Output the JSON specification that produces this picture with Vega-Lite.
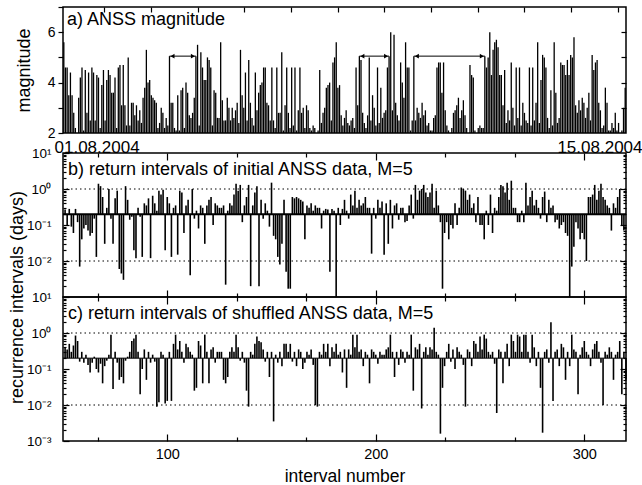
{
"$schema": "https://vega.github.io/schema/vega-lite/v6.json",
"padding": {"left": 7, "top": 5, "right": 0, "bottom": 0},
"bounds": "flush",
"spacing": 20,
"config": {
  "font": "Liberation Sans",
  "view": {"stroke": "black", "strokeWidth": 1.5},
  "axis": {"domain": false, "grid": false, "tickColor": "black", "labelColor": "black", "titleColor": "black", "titleFontWeight": "normal", "tickWidth": 1.2, "labelFont": "Liberation Sans", "titleFont": "Liberation Sans"}
},
"datasets": {
"mag": [
{"k":1,"m":5.6},{"k":2,"m":4.6},{"k":3,"m":4.6},{"k":4,"m":3.5},{"k":5,"m":4.4},{"k":6,"m":3.5},{"k":7,"m":2.8},{"k":8,"m":2.2},{"k":9,"m":2.0},{"k":10,"m":3.4},
{"k":11,"m":4.2},{"k":12,"m":4.6},{"k":13,"m":2.1},{"k":14,"m":4.5},{"k":15,"m":2.8},{"k":16,"m":4.4},{"k":17,"m":2.5},{"k":18,"m":4.6},{"k":19,"m":4.4},{"k":20,"m":2.5},
{"k":21,"m":4.3},{"k":22,"m":4.2},{"k":23,"m":2.2},{"k":24,"m":3.9},{"k":25,"m":4.5},{"k":26,"m":2.5},{"k":27,"m":4.1},{"k":28,"m":4.5},{"k":29,"m":4.3},{"k":30,"m":3.6},
{"k":31,"m":3.6},{"k":32,"m":4.2},{"k":33,"m":2.2},{"k":34,"m":4.6},{"k":35,"m":4.7},{"k":36,"m":3.1},{"k":37,"m":4.7},{"k":38,"m":3.1},{"k":39,"m":2.3},{"k":40,"m":5.0},
{"k":41,"m":2.3},{"k":42,"m":3.2},{"k":43,"m":3.2},{"k":44,"m":2.7},{"k":45,"m":3.1},{"k":46,"m":2.5},{"k":47,"m":2.9},{"k":48,"m":2.4},{"k":49,"m":3.4},{"k":50,"m":3.8},
{"k":51,"m":5.3},{"k":52,"m":4.0},{"k":53,"m":4.1},{"k":54,"m":3.5},{"k":55,"m":3.4},{"k":56,"m":3.3},{"k":57,"m":3.2},{"k":58,"m":2.2},{"k":59,"m":2.4},{"k":60,"m":3.0},
{"k":61,"m":2.8},{"k":62,"m":2.2},{"k":63,"m":2.6},{"k":64,"m":2.3},{"k":65,"m":5.05},{"k":66,"m":3.2},{"k":67,"m":3.2},{"k":68,"m":2.2},{"k":69,"m":2.1},{"k":70,"m":3.5},
{"k":71,"m":2.1},{"k":72,"m":3.7},{"k":73,"m":3.8},{"k":74,"m":2.2},{"k":75,"m":4.0},{"k":76,"m":3.6},{"k":77,"m":2.7},{"k":78,"m":2.6},{"k":79,"m":2.8},{"k":80,"m":3.4},
{"k":81,"m":5.05},{"k":82,"m":5.5},{"k":83,"m":2.3},{"k":84,"m":5.2},{"k":85,"m":4.6},{"k":86,"m":4.1},{"k":87,"m":4.1},{"k":88,"m":5.0},{"k":89,"m":4.9},{"k":90,"m":4.6},
{"k":91,"m":2.3},{"k":92,"m":3.7},{"k":93,"m":3.6},{"k":94,"m":2.6},{"k":95,"m":2.6},{"k":96,"m":5.6},{"k":97,"m":3.3},{"k":98,"m":2.5},{"k":99,"m":2.5},{"k":100,"m":3.4},
{"k":101,"m":3.0},{"k":102,"m":2.5},{"k":103,"m":3.0},{"k":104,"m":2.6},{"k":105,"m":2.9},{"k":106,"m":3.2},{"k":107,"m":2.4},{"k":108,"m":5.3},{"k":109,"m":3.5},{"k":110,"m":3.0},
{"k":111,"m":4.4},{"k":112,"m":2.5},{"k":113,"m":4.9},{"k":114,"m":3.2},{"k":115,"m":2.6},{"k":116,"m":2.3},{"k":117,"m":4.4},{"k":118,"m":2.9},{"k":119,"m":3.6},{"k":120,"m":3.9},
{"k":121,"m":4.0},{"k":122,"m":4.6},{"k":123,"m":4.6},{"k":124,"m":3.2},{"k":125,"m":3.1},{"k":126,"m":2.5},{"k":127,"m":4.6},{"k":128,"m":2.5},{"k":129,"m":2.2},{"k":130,"m":4.6},
{"k":131,"m":2.8},{"k":132,"m":2.8},{"k":133,"m":5.2},{"k":134,"m":2.1},{"k":135,"m":3.1},{"k":136,"m":4.6},{"k":137,"m":2.8},{"k":138,"m":2.2},{"k":139,"m":4.6},{"k":140,"m":2.3},
{"k":141,"m":4.6},{"k":142,"m":2.1},{"k":143,"m":2.9},{"k":144,"m":4.6},{"k":145,"m":2.8},{"k":146,"m":3.0},{"k":147,"m":2.2},{"k":148,"m":3.1},{"k":149,"m":2.9},{"k":150,"m":2.2},
{"k":151,"m":2.1},{"k":152,"m":2.3},{"k":153,"m":2.2},{"k":154,"m":2.0},{"k":155,"m":2.1},{"k":156,"m":4.5},{"k":157,"m":2.4},{"k":158,"m":2.8},{"k":159,"m":3.0},{"k":160,"m":3.8},
{"k":161,"m":3.9},{"k":162,"m":4.0},{"k":163,"m":2.5},{"k":164,"m":4.8},{"k":165,"m":5.0},{"k":166,"m":5.6},{"k":167,"m":3.8},{"k":168,"m":3.9},{"k":169,"m":2.7},{"k":170,"m":2.3},
{"k":171,"m":2.6},{"k":172,"m":2.9},{"k":173,"m":2.4},{"k":174,"m":2.3},{"k":175,"m":2.5},{"k":176,"m":2.6},{"k":177,"m":2.2},{"k":178,"m":4.6},{"k":179,"m":3.1},{"k":180,"m":5.05},
{"k":181,"m":4.9},{"k":182,"m":2.8},{"k":183,"m":2.4},{"k":184,"m":2.2},{"k":185,"m":2.7},{"k":186,"m":5.0},{"k":187,"m":2.5},{"k":188,"m":3.5},{"k":189,"m":3.0},{"k":190,"m":2.3},
{"k":191,"m":4.6},{"k":192,"m":2.4},{"k":193,"m":3.8},{"k":194,"m":2.6},{"k":195,"m":2.8},{"k":196,"m":2.9},{"k":197,"m":4.6},{"k":198,"m":5.05},{"k":199,"m":6.0},{"k":200,"m":2.9},
{"k":201,"m":5.9},{"k":202,"m":3.2},{"k":203,"m":2.7},{"k":204,"m":2.5},{"k":205,"m":4.8},{"k":206,"m":4.0},{"k":207,"m":3.4},{"k":208,"m":5.6},{"k":209,"m":4.6},{"k":210,"m":4.6},
{"k":211,"m":2.1},{"k":212,"m":2.5},{"k":213,"m":5.05},{"k":214,"m":2.5},{"k":215,"m":3.0},{"k":216,"m":2.8},{"k":217,"m":2.6},{"k":218,"m":3.2},{"k":219,"m":2.7},{"k":220,"m":2.9},
{"k":221,"m":2.3},{"k":222,"m":2.4},{"k":223,"m":2.1},{"k":224,"m":2.1},{"k":225,"m":2.6},{"k":226,"m":2.7},{"k":227,"m":4.6},{"k":228,"m":4.8},{"k":229,"m":4.8},{"k":230,"m":3.6},
{"k":231,"m":4.8},{"k":232,"m":2.9},{"k":233,"m":2.3},{"k":234,"m":2.1},{"k":235,"m":2.0},{"k":236,"m":2.2},{"k":237,"m":2.8},{"k":238,"m":2.9},{"k":239,"m":3.1},{"k":240,"m":3.4},
{"k":241,"m":2.6},{"k":242,"m":2.9},{"k":243,"m":3.3},{"k":244,"m":2.7},{"k":245,"m":2.2},{"k":246,"m":2.0},{"k":247,"m":4.7},{"k":248,"m":4.3},{"k":249,"m":4.2},{"k":250,"m":2.1},
{"k":251,"m":2.0},{"k":252,"m":2.2},{"k":253,"m":2.3},{"k":254,"m":2.2},{"k":255,"m":2.2},{"k":256,"m":5.05},{"k":257,"m":4.6},{"k":258,"m":5.0},{"k":259,"m":6.0},{"k":260,"m":4.3},
{"k":261,"m":5.3},{"k":262,"m":5.6},{"k":263,"m":5.7},{"k":264,"m":5.4},{"k":265,"m":4.3},{"k":266,"m":4.3},{"k":267,"m":3.1},{"k":268,"m":4.5},{"k":269,"m":2.4},{"k":270,"m":2.9},
{"k":271,"m":2.5},{"k":272,"m":4.8},{"k":273,"m":3.0},{"k":274,"m":2.3},{"k":275,"m":4.6},{"k":276,"m":2.6},{"k":277,"m":4.6},{"k":278,"m":2.3},{"k":279,"m":3.2},{"k":280,"m":2.8},
{"k":281,"m":2.5},{"k":282,"m":2.4},{"k":283,"m":4.6},{"k":284,"m":2.3},{"k":285,"m":4.6},{"k":286,"m":2.5},{"k":287,"m":3.2},{"k":288,"m":5.6},{"k":289,"m":2.4},{"k":290,"m":4.1},
{"k":291,"m":5.1},{"k":292,"m":5.0},{"k":293,"m":4.6},{"k":294,"m":2.6},{"k":295,"m":2.2},{"k":296,"m":3.7},{"k":297,"m":2.3},{"k":298,"m":5.6},{"k":299,"m":3.6},{"k":300,"m":2.4},
{"k":301,"m":2.6},{"k":302,"m":4.8},{"k":303,"m":4.7},{"k":304,"m":4.7},{"k":305,"m":4.3},{"k":306,"m":4.9},{"k":307,"m":4.3},{"k":308,"m":5.1},{"k":309,"m":5.0},{"k":310,"m":5.8},
{"k":311,"m":3.1},{"k":312,"m":2.8},{"k":313,"m":3.3},{"k":314,"m":2.9},{"k":315,"m":3.4},{"k":316,"m":3.2},{"k":317,"m":2.6},{"k":318,"m":3.0},{"k":319,"m":3.6},{"k":320,"m":2.5},
{"k":321,"m":5.1},{"k":322,"m":4.5},{"k":323,"m":4.8},{"k":324,"m":4.9},{"k":325,"m":3.2},{"k":326,"m":2.9},{"k":327,"m":2.2},{"k":328,"m":2.3},{"k":329,"m":3.8},{"k":330,"m":3.2},
{"k":331,"m":2.1},{"k":332,"m":2.1},{"k":333,"m":2.4},{"k":334,"m":2.2},{"k":335,"m":2.8},{"k":336,"m":2.1},{"k":337,"m":2.4},{"k":338,"m":2.0},{"k":339,"m":2.1},{"k":340,"m":3.0},
{"k":341,"m":3.8}
],
"arrows": [{"k1":65,"k2":81,"m":5.05},{"k1":180,"k2":198,"m":5.05},{"k1":213,"k2":256,"m":5.05}],
"b": [
{"n":51,"r":0.27},{"n":52,"r":0.1},{"n":53,"r":0.28},{"n":54,"r":0.09},{"n":55,"r":0.06},{"n":56,"r":0.28},{"n":57,"r":0.12},{"n":58,"r":0.007},{"n":59,"r":0.04},{"n":60,"r":0.08},
{"n":61,"r":0.1},{"n":62,"r":0.07},{"n":63,"r":0.05},{"n":64,"r":0.06},{"n":65,"r":0.15},{"n":66,"r":0.013},{"n":67,"r":1.4},{"n":68,"r":1.2},{"n":69,"r":0.6},{"n":70,"r":0.03},
{"n":71,"r":0.3},{"n":72,"r":1.0},{"n":73,"r":0.15},{"n":74,"r":0.03},{"n":75,"r":0.55},{"n":76,"r":0.9},{"n":77,"r":0.006},{"n":78,"r":0.0045},{"n":79,"r":0.003},{"n":80,"r":1.2},
{"n":81,"r":0.5},{"n":82,"r":0.14},{"n":83,"r":0.17},{"n":84,"r":0.02},{"n":85,"r":0.012},{"n":86,"r":0.3},{"n":87,"r":0.17},{"n":88,"r":0.013},{"n":89,"r":0.4},{"n":90,"r":0.35},
{"n":91,"r":0.55},{"n":92,"r":0.012},{"n":93,"r":0.65},{"n":94,"r":0.4},{"n":95,"r":0.25},{"n":96,"r":0.9},{"n":97,"r":0.7},{"n":98,"r":0.95},{"n":99,"r":0.02},{"n":100,"r":0.6},
{"n":101,"r":0.4},{"n":102,"r":0.013},{"n":103,"r":0.3},{"n":104,"r":0.35},{"n":105,"r":0.015},{"n":106,"r":0.9},{"n":107,"r":0.8},{"n":108,"r":0.06},{"n":109,"r":0.35},{"n":110,"r":0.5},
{"n":111,"r":0.004},{"n":112,"r":1.0},{"n":113,"r":0.15},{"n":114,"r":0.25},{"n":115,"r":0.08},{"n":116,"r":0.35},{"n":117,"r":0.3},{"n":118,"r":0.03},{"n":119,"r":0.35},{"n":120,"r":0.5},
{"n":121,"r":0.6},{"n":122,"r":0.1},{"n":123,"r":0.4},{"n":124,"r":0.35},{"n":125,"r":0.3},{"n":126,"r":0.3},{"n":127,"r":0.35},{"n":128,"r":0.0022},{"n":129,"r":0.25},{"n":130,"r":0.4},
{"n":131,"r":0.35},{"n":132,"r":0.7},{"n":133,"r":1.4},{"n":134,"r":0.9},{"n":135,"r":1.3},{"n":136,"r":0.12},{"n":137,"r":0.35},{"n":138,"r":0.6},{"n":139,"r":1.3},{"n":140,"r":0.002},
{"n":141,"r":0.35},{"n":142,"r":0.8},{"n":143,"r":1.2},{"n":144,"r":0.002},{"n":145,"r":0.5},{"n":146,"r":0.15},{"n":147,"r":0.4},{"n":148,"r":0.25},{"n":149,"r":0.09},{"n":150,"r":1.5},
{"n":151,"r":0.05},{"n":152,"r":0.04},{"n":153,"r":0.013},{"n":154,"r":0.008},{"n":155,"r":0.03},{"n":156,"r":0.5},{"n":157,"r":0.005},{"n":158,"r":0.0017},{"n":159,"r":0.0017},{"n":160,"r":0.6},
{"n":161,"r":0.55},{"n":162,"r":0.6},{"n":163,"r":0.55},{"n":164,"r":0.5},{"n":165,"r":0.45},{"n":166,"r":0.04},{"n":167,"r":0.35},{"n":168,"r":0.3},{"n":169,"r":0.4},{"n":170,"r":0.25},
{"n":171,"r":0.35},{"n":172,"r":0.3},{"n":173,"r":0.3},{"n":174,"r":0.08},{"n":175,"r":0.25},{"n":176,"r":0.28},{"n":177,"r":0.27},{"n":178,"r":0.005},{"n":179,"r":0.28},{"n":180,"r":0.25},
{"n":181,"r":0.001},{"n":182,"r":0.3},{"n":183,"r":0.1},{"n":184,"r":0.28},{"n":185,"r":0.5},{"n":186,"r":0.25},{"n":187,"r":0.15},{"n":188,"r":0.7},{"n":189,"r":0.35},{"n":190,"r":0.9},
{"n":191,"r":0.3},{"n":192,"r":0.5},{"n":193,"r":0.35},{"n":194,"r":0.4},{"n":195,"r":0.6},{"n":196,"r":0.3},{"n":197,"r":0.3},{"n":198,"r":0.016},{"n":199,"r":0.3},{"n":200,"r":0.15},
{"n":201,"r":0.5},{"n":202,"r":0.3},{"n":203,"r":0.45},{"n":204,"r":0.015},{"n":205,"r":0.4},{"n":206,"r":0.03},{"n":207,"r":0.5},{"n":208,"r":0.08},{"n":209,"r":0.35},{"n":210,"r":0.4},
{"n":211,"r":0.14},{"n":212,"r":0.3},{"n":213,"r":0.3},{"n":214,"r":0.12},{"n":215,"r":0.13},{"n":216,"r":0.35},{"n":217,"r":0.7},{"n":218,"r":0.15},{"n":219,"r":1.3},{"n":220,"r":0.5},
{"n":221,"r":0.9},{"n":222,"r":1.0},{"n":223,"r":1.3},{"n":224,"r":0.8},{"n":225,"r":0.6},{"n":226,"r":0.8},{"n":227,"r":1.4},{"n":228,"r":0.3},{"n":229,"r":0.9},{"n":230,"r":0.35},
{"n":231,"r":0.12},{"n":232,"r":0.0017},{"n":233,"r":0.06},{"n":234,"r":0.12},{"n":235,"r":0.04},{"n":236,"r":0.1},{"n":237,"r":0.08},{"n":238,"r":0.4},{"n":239,"r":0.1},{"n":240,"r":0.3},
{"n":241,"r":1.1},{"n":242,"r":1.0},{"n":243,"r":0.9},{"n":244,"r":0.5},{"n":245,"r":0.7},{"n":246,"r":0.3},{"n":247,"r":0.4},{"n":248,"r":0.12},{"n":249,"r":0.6},{"n":250,"r":0.1},
{"n":251,"r":0.1},{"n":252,"r":0.04},{"n":253,"r":0.25},{"n":254,"r":0.1},{"n":255,"r":0.7},{"n":256,"r":0.06},{"n":257,"r":0.3},{"n":258,"r":0.25},{"n":259,"r":0.6},{"n":260,"r":1.3},
{"n":261,"r":1.2},{"n":262,"r":0.8},{"n":263,"r":1.5},{"n":264,"r":0.5},{"n":265,"r":1.7},{"n":266,"r":0.3},{"n":267,"r":0.3},{"n":268,"r":0.12},{"n":269,"r":0.12},{"n":270,"r":0.25},
{"n":271,"r":0.12},{"n":272,"r":1.5},{"n":273,"r":0.35},{"n":274,"r":0.6},{"n":275,"r":0.9},{"n":276,"r":0.35},{"n":277,"r":0.5},{"n":278,"r":0.3},{"n":279,"r":0.15},{"n":280,"r":0.6},
{"n":281,"r":0.85},{"n":282,"r":0.12},{"n":283,"r":0.5},{"n":284,"r":0.3},{"n":285,"r":0.35},{"n":286,"r":0.12},{"n":287,"r":0.14},{"n":288,"r":0.08},{"n":289,"r":0.1},{"n":290,"r":0.12},
{"n":291,"r":0.06},{"n":292,"r":0.05},{"n":293,"r":0.001},{"n":294,"r":0.007},{"n":295,"r":0.025},{"n":296,"r":0.12},{"n":297,"r":0.08},{"n":298,"r":0.04},{"n":299,"r":0.06},{"n":300,"r":0.04},
{"n":301,"r":0.01},{"n":302,"r":0.6},{"n":303,"r":0.6},{"n":304,"r":0.7},{"n":305,"r":1.3},{"n":306,"r":0.5},{"n":307,"r":0.9},{"n":308,"r":1.4},{"n":309,"r":0.6},{"n":310,"r":0.5},
{"n":311,"r":0.35},{"n":312,"r":0.3},{"n":313,"r":0.07},{"n":314,"r":0.4},{"n":315,"r":0.3},{"n":316,"r":0.6},{"n":317,"r":1.0},{"n":318,"r":0.1},{"n":319,"r":0.07},{"n":320,"r":0.2}
],
"c": [
{"n":51,"r":0.4},{"n":52,"r":0.35},{"n":53,"r":0.5},{"n":54,"r":0.3},{"n":55,"r":0.45},{"n":56,"r":0.85},{"n":57,"r":0.6},{"n":58,"r":0.16},{"n":59,"r":0.3},{"n":60,"r":0.15},
{"n":61,"r":0.25},{"n":62,"r":0.13},{"n":63,"r":0.08},{"n":64,"r":0.15},{"n":65,"r":0.22},{"n":66,"r":0.1},{"n":67,"r":0.08},{"n":68,"r":0.14},{"n":69,"r":0.04},{"n":70,"r":0.12},
{"n":71,"r":0.17},{"n":72,"r":0.25},{"n":73,"r":0.9},{"n":74,"r":0.028},{"n":75,"r":0.3},{"n":76,"r":0.15},{"n":77,"r":0.05},{"n":78,"r":0.06},{"n":79,"r":0.04},{"n":80,"r":0.17},
{"n":81,"r":0.22},{"n":82,"r":0.3},{"n":83,"r":0.6},{"n":84,"r":0.7},{"n":85,"r":0.9},{"n":86,"r":0.3},{"n":87,"r":0.02},{"n":88,"r":0.1},{"n":89,"r":0.35},{"n":90,"r":0.05},
{"n":91,"r":0.3},{"n":92,"r":0.15},{"n":93,"r":0.25},{"n":94,"r":0.16},{"n":95,"r":0.009},{"n":96,"r":0.012},{"n":97,"r":0.3},{"n":98,"r":0.25},{"n":99,"r":0.011},{"n":100,"r":0.013},
{"n":101,"r":0.3},{"n":102,"r":0.013},{"n":103,"r":0.5},{"n":104,"r":0.9},{"n":105,"r":0.35},{"n":106,"r":0.6},{"n":107,"r":0.3},{"n":108,"r":0.15},{"n":109,"r":0.5},{"n":110,"r":0.4},
{"n":111,"r":0.3},{"n":112,"r":0.25},{"n":113,"r":0.025},{"n":114,"r":0.03},{"n":115,"r":0.6},{"n":116,"r":0.45},{"n":117,"r":0.04},{"n":118,"r":0.9},{"n":119,"r":0.3},{"n":120,"r":0.04},
{"n":121,"r":0.35},{"n":122,"r":0.4},{"n":123,"r":0.15},{"n":124,"r":0.3},{"n":125,"r":0.3},{"n":126,"r":0.3},{"n":127,"r":0.05},{"n":128,"r":0.04},{"n":129,"r":0.06},{"n":130,"r":0.3},
{"n":131,"r":0.4},{"n":132,"r":0.3},{"n":133,"r":0.9},{"n":134,"r":0.4},{"n":135,"r":0.17},{"n":136,"r":0.3},{"n":137,"r":0.15},{"n":138,"r":0.025},{"n":139,"r":0.009},{"n":140,"r":0.3},
{"n":141,"r":0.25},{"n":142,"r":0.5},{"n":143,"r":0.8},{"n":144,"r":0.6},{"n":145,"r":0.55},{"n":146,"r":0.35},{"n":147,"r":0.16},{"n":148,"r":0.3},{"n":149,"r":0.06},{"n":150,"r":0.3},
{"n":151,"r":0.0035},{"n":152,"r":0.25},{"n":153,"r":0.15},{"n":154,"r":0.3},{"n":155,"r":0.12},{"n":156,"r":0.5},{"n":157,"r":0.5},{"n":158,"r":0.3},{"n":159,"r":0.5},{"n":160,"r":0.16},
{"n":161,"r":0.3},{"n":162,"r":0.12},{"n":163,"r":0.35},{"n":164,"r":0.3},{"n":165,"r":0.1},{"n":166,"r":0.15},{"n":167,"r":0.3},{"n":168,"r":0.25},{"n":169,"r":0.35},{"n":170,"r":0.13},
{"n":171,"r":0.01},{"n":172,"r":0.009},{"n":173,"r":0.3},{"n":174,"r":0.25},{"n":175,"r":0.5},{"n":176,"r":0.3},{"n":177,"r":0.5},{"n":178,"r":0.12},{"n":179,"r":0.4},{"n":180,"r":0.3},
{"n":181,"r":0.5},{"n":182,"r":0.25},{"n":183,"r":0.3},{"n":184,"r":0.08},{"n":185,"r":0.35},{"n":186,"r":0.03},{"n":187,"r":0.35},{"n":188,"r":0.25},{"n":189,"r":0.9},{"n":190,"r":0.4},
{"n":191,"r":0.9},{"n":192,"r":0.3},{"n":193,"r":0.35},{"n":194,"r":0.12},{"n":195,"r":0.3},{"n":196,"r":0.25},{"n":197,"r":0.04},{"n":198,"r":0.35},{"n":199,"r":0.3},{"n":200,"r":0.25},
{"n":201,"r":0.14},{"n":202,"r":0.3},{"n":203,"r":0.25},{"n":204,"r":0.25},{"n":205,"r":0.35},{"n":206,"r":0.4},{"n":207,"r":0.9},{"n":208,"r":0.3},{"n":209,"r":0.06},{"n":210,"r":0.3},
{"n":211,"r":0.13},{"n":212,"r":0.35},{"n":213,"r":0.3},{"n":214,"r":0.15},{"n":215,"r":0.3},{"n":216,"r":0.25},{"n":217,"r":0.9},{"n":218,"r":0.025},{"n":219,"r":0.4},{"n":220,"r":0.35},
{"n":221,"r":0.5},{"n":222,"r":0.008},{"n":223,"r":0.3},{"n":224,"r":0.4},{"n":225,"r":0.25},{"n":226,"r":0.4},{"n":227,"r":0.35},{"n":228,"r":1.4},{"n":229,"r":0.3},{"n":230,"r":0.25},
{"n":231,"r":0.0016},{"n":232,"r":0.03},{"n":233,"r":0.12},{"n":234,"r":0.3},{"n":235,"r":0.5},{"n":236,"r":0.16},{"n":237,"r":0.35},{"n":238,"r":0.1},{"n":239,"r":0.4},{"n":240,"r":0.3},
{"n":241,"r":0.25},{"n":242,"r":0.13},{"n":243,"r":0.009},{"n":244,"r":0.35},{"n":245,"r":0.3},{"n":246,"r":0.12},{"n":247,"r":0.6},{"n":248,"r":0.5},{"n":249,"r":0.3},{"n":250,"r":0.8},
{"n":251,"r":0.35},{"n":252,"r":0.9},{"n":253,"r":0.7},{"n":254,"r":0.3},{"n":255,"r":0.25},{"n":256,"r":0.3},{"n":257,"r":0.14},{"n":258,"r":0.006},{"n":259,"r":0.35},{"n":260,"r":0.3},
{"n":261,"r":0.04},{"n":262,"r":0.3},{"n":263,"r":0.5},{"n":264,"r":0.12},{"n":265,"r":0.9},{"n":266,"r":0.6},{"n":267,"r":0.3},{"n":268,"r":0.9},{"n":269,"r":0.8},{"n":270,"r":0.3},
{"n":271,"r":0.9},{"n":272,"r":0.9},{"n":273,"r":0.3},{"n":274,"r":0.15},{"n":275,"r":0.9},{"n":276,"r":0.4},{"n":277,"r":0.12},{"n":278,"r":0.3},{"n":279,"r":0.03},{"n":280,"r":0.0017},
{"n":281,"r":0.3},{"n":282,"r":0.35},{"n":283,"r":0.15},{"n":284,"r":2.0},{"n":285,"r":0.013},{"n":286,"r":0.3},{"n":287,"r":0.35},{"n":288,"r":0.12},{"n":289,"r":0.5},{"n":290,"r":0.4},
{"n":291,"r":0.05},{"n":292,"r":0.3},{"n":293,"r":0.12},{"n":294,"r":0.9},{"n":295,"r":0.35},{"n":296,"r":0.3},{"n":297,"r":0.02},{"n":298,"r":0.25},{"n":299,"r":0.4},{"n":300,"r":0.6},
{"n":301,"r":0.3},{"n":302,"r":0.25},{"n":303,"r":0.12},{"n":304,"r":0.35},{"n":305,"r":0.5},{"n":306,"r":0.6},{"n":307,"r":0.3},{"n":308,"r":0.15},{"n":309,"r":0.01},{"n":310,"r":0.3},
{"n":311,"r":0.25},{"n":312,"r":0.4},{"n":313,"r":0.3},{"n":314,"r":0.05},{"n":315,"r":0.25},{"n":316,"r":0.3},{"n":317,"r":0.6},{"n":318,"r":0.02},{"n":319,"r":0.3},{"n":320,"r":0.05}
]
},
"vconcat": [
{
 "width": 563, "height": 126,
 "layer": [
  {"data": {"name": "mag"}, "mark": {"type": "rule", "color": "black", "strokeWidth": 1.3},
   "encoding": {
    "x": {"field": "k", "type": "quantitative", "scale": {"domain": [0.5, 341.5], "nice": false, "zero": false},
          "axis": {"orient": "bottom", "values": [0.5, 341.5], "ticks": false, "title": null, "labelFlush": false, "labelOverlap": false,
                   "labelExpr": "datum.value < 100 ? '01.08.2004' : '15.08.2004'", "labelFontSize": 17, "labelBaseline": "alphabetic", "labelPadding": 19,
                   "labelAlign": {"condition": {"test": "datum.value < 100", "value": "left"}, "value": "right"},
                   "labelOffset": {"condition": {"test": "datum.value < 100", "value": -9}, "value": 16}}},
    "y": {"field": "m", "type": "quantitative", "scale": {"domain": [2, 7], "nice": false, "zero": false},
          "axis": {"orient": "left", "values": [2, 3, 4, 5, 6, 7], "labelExpr": "datum.value == 2 || datum.value == 4 || datum.value == 6 ? datum.label : ''",
                   "tickSize": 5, "labelFontSize": 14, "labelPadding": 3, "title": "magnitude", "titleFontSize": 18, "titleAngle": -90, "titleX": -34, "titleBaseline": "alphabetic", "titleAlign": "center"}},
    "y2": {"datum": 2}
   }},
  {"data": {"name": "arrows"}, "mark": {"type": "rule", "color": "black", "strokeWidth": 1},
   "encoding": {"x": {"field": "k1", "type": "quantitative", "axis": null}, "x2": {"field": "k2"}, "y": {"field": "m", "type": "quantitative", "axis": null}}},
  {"data": {"name": "arrows"}, "mark": {"type": "point", "shape": "triangle-left", "filled": true, "opacity": 1, "color": "black", "size": 22, "xOffset": 3},
   "encoding": {"x": {"field": "k1", "type": "quantitative", "axis": null}, "y": {"field": "m", "type": "quantitative", "axis": null}}},
  {"data": {"name": "arrows"}, "mark": {"type": "point", "shape": "triangle-right", "filled": true, "opacity": 1, "color": "black", "size": 22, "xOffset": -3},
   "encoding": {"x": {"field": "k2", "type": "quantitative", "axis": null}, "y": {"field": "m", "type": "quantitative", "axis": null}}},
  {"data": {"values": [{"label": "a) ANSS magnitude"}]}, "mark": {"type": "text", "align": "left", "baseline": "middle", "fontSize": 18, "color": "black"},
   "encoding": {"text": {"field": "label"},
    "x": {"datum": 2.9, "type": "quantitative", "axis": {"orient": "top", "values": [25.5, 53.8, 82.1, 110.3, 138.6, 166.9, 195.1, 223.4, 251.7, 279.9, 308.2, 336.5], "labels": false, "tickSize": -5, "title": null}},
    "y": {"datum": 6.5, "type": "quantitative", "axis": {"orient": "right", "values": [3, 4, 5, 6], "labels": false, "tickSize": -5, "title": null}}}}
 ],
 "resolve": {"axis": {"x": "independent", "y": "independent"}}
},
{
 "spacing": 0,
 "bounds": "flush",
 "vconcat": [
 {
  "width": 563, "height": 144,
  "layer": [
   {"data": {"values": [{"g": 1}, {"g": 0.01}]}, "mark": {"type": "rule", "color": "black", "strokeDash": [1.5, 3], "strokeWidth": 1},
    "encoding": {"y": {"field": "g", "type": "quantitative", "axis": null}}},
   {"data": {"values": [{}]}, "mark": {"type": "rule", "color": "black", "strokeWidth": 2},
    "encoding": {"y": {"datum": 0.2, "type": "quantitative", "axis": null}}},
   {"data": {"name": "b"}, "mark": {"type": "rule", "color": "black", "strokeWidth": 1.6},
    "encoding": {
     "x": {"field": "n", "type": "quantitative", "scale": {"domain": [50, 320], "nice": false, "zero": false},
           "axis": {"orient": "bottom", "values": [66.667, 100, 133.333, 166.667, 200, 233.333, 266.667, 300], "labels": false, "title": null,
                    "tickSize": {"condition": {"test": "datum.value % 100 == 0", "value": -7}, "value": -4}}},
     "y": {"field": "r", "type": "quantitative", "scale": {"type": "log", "domain": [0.001, 10], "nice": false},
           "axis": {"orient": "left", "title": null, "labelFontSize": 13.5, "labelPadding": 18, "labelOverlap": false, "labelFlush": false,
                    "values": [0.002,0.003,0.004,0.005,0.006,0.007,0.008,0.009,0.01,0.02,0.03,0.04,0.05,0.06,0.07,0.08,0.09,0.1,0.2,0.3,0.4,0.5,0.6,0.7,0.8,0.9,1,2,3,4,5,6,7,8,9,10],
                    "labelExpr": "datum.value == 10 ? '10¹' : datum.value == 1 ? '10⁰' : datum.value == 0.1 ? '10⁻¹' : datum.value == 0.01 ? '10⁻²' : ''",
                    "tickSize": {"condition": {"test": "datum.value == 10 || datum.value == 1 || datum.value == 0.1 || datum.value == 0.01", "value": -6}, "value": -3}}},
     "y2": {"datum": 0.2}
    }},
   {"data": {"values": [{"label": "b) return intervals of initial ANSS data, M=5"}]}, "mark": {"type": "text", "align": "left", "baseline": "middle", "fontSize": 18, "color": "black"},
    "encoding": {"text": {"field": "label"},
     "x": {"datum": 52.4, "type": "quantitative", "axis": {"orient": "top", "values": [66.667, 100, 133.333, 166.667, 200, 233.333, 266.667, 300], "labels": false, "title": null,
                    "tickSize": {"condition": {"test": "datum.value % 100 == 0", "value": -7}, "value": -4}}},
     "y": {"datum": 3.3, "type": "quantitative", "axis": {"orient": "right", "labels": false, "title": null,
                    "values": [0.002,0.003,0.004,0.005,0.006,0.007,0.008,0.009,0.01,0.02,0.03,0.04,0.05,0.06,0.07,0.08,0.09,0.1,0.2,0.3,0.4,0.5,0.6,0.7,0.8,0.9,1,2,3,4,5,6,7,8,9],
                    "tickSize": {"condition": {"test": "datum.value == 1 || datum.value == 0.1 || datum.value == 0.01", "value": -6}, "value": -3}}}}}
  ],
  "resolve": {"axis": {"x": "independent", "y": "independent"}}
 },
 {
  "width": 563, "height": 144,
  "layer": [
   {"data": {"values": [{"g": 1}, {"g": 0.01}]}, "mark": {"type": "rule", "color": "black", "strokeDash": [1.5, 3], "strokeWidth": 1},
    "encoding": {"y": {"field": "g", "type": "quantitative", "axis": null}}},
   {"data": {"values": [{}]}, "mark": {"type": "rule", "color": "black", "strokeWidth": 1},
    "encoding": {"y": {"datum": 0.2, "type": "quantitative", "axis": null}}},
   {"data": {"name": "c"}, "mark": {"type": "rule", "color": "black", "strokeWidth": 1.6},
    "encoding": {
     "x": {"field": "n", "type": "quantitative", "scale": {"domain": [50, 320], "nice": false, "zero": false},
           "axis": {"orient": "bottom", "values": [66.667, 100, 133.333, 166.667, 200, 233.333, 266.667, 300],
                    "labelExpr": "datum.value % 100 == 0 ? datum.label : ''", "labelFontSize": 14.5, "labelPadding": 13,
                    "tickSize": {"condition": {"test": "datum.value % 100 == 0", "value": -7}, "value": -4},
                    "title": "interval number", "titleFontSize": 17.5, "titleY": 35, "titleBaseline": "middle"}},
     "y": {"field": "r", "type": "quantitative", "scale": {"type": "log", "domain": [0.001, 10], "nice": false},
           "axis": {"orient": "left", "labelFontSize": 13.5, "labelPadding": 18, "labelOverlap": false, "labelFlush": false,
                    "values": [0.001,0.002,0.003,0.004,0.005,0.006,0.007,0.008,0.009,0.01,0.02,0.03,0.04,0.05,0.06,0.07,0.08,0.09,0.1,0.2,0.3,0.4,0.5,0.6,0.7,0.8,0.9,1,2,3,4,5,6,7,8,9,10],
                    "labelExpr": "datum.value == 10 ? '10¹' : datum.value == 1 ? '10⁰' : datum.value == 0.1 ? '10⁻¹' : datum.value == 0.01 ? '10⁻²' : datum.value == 0.001 ? '10⁻³' : ''",
                    "tickSize": {"condition": {"test": "datum.value == 10 || datum.value == 1 || datum.value == 0.1 || datum.value == 0.01 || datum.value == 0.001", "value": -6}, "value": -3},
                    "title": "recurrence intervals (days)", "titleFontSize": 18, "titleAngle": -90, "titleX": -41, "titleY": 0, "titleBaseline": "alphabetic", "titleAlign": "center"}},
     "y2": {"datum": 0.2}
    }},
   {"data": {"values": [{"label": "c) return intervals of shuffled ANSS data, M=5"}]}, "mark": {"type": "text", "align": "left", "baseline": "middle", "fontSize": 18, "color": "black"},
    "encoding": {"text": {"field": "label"},
     "x": {"datum": 52.4, "type": "quantitative", "axis": {"orient": "top", "values": [66.667, 100, 133.333, 166.667, 200, 233.333, 266.667, 300], "labels": false, "title": null,
                    "tickSize": {"condition": {"test": "datum.value % 100 == 0", "value": -7}, "value": -4}}},
     "y": {"datum": 3.3, "type": "quantitative", "axis": {"orient": "right", "labels": false, "title": null,
                    "values": [0.002,0.003,0.004,0.005,0.006,0.007,0.008,0.009,0.01,0.02,0.03,0.04,0.05,0.06,0.07,0.08,0.09,0.1,0.2,0.3,0.4,0.5,0.6,0.7,0.8,0.9,1,2,3,4,5,6,7,8,9],
                    "tickSize": {"condition": {"test": "datum.value == 1 || datum.value == 0.1 || datum.value == 0.01", "value": -6}, "value": -3}}}}}
  ],
  "resolve": {"axis": {"x": "independent", "y": "independent"}}
 }
 ]
}
]
}
